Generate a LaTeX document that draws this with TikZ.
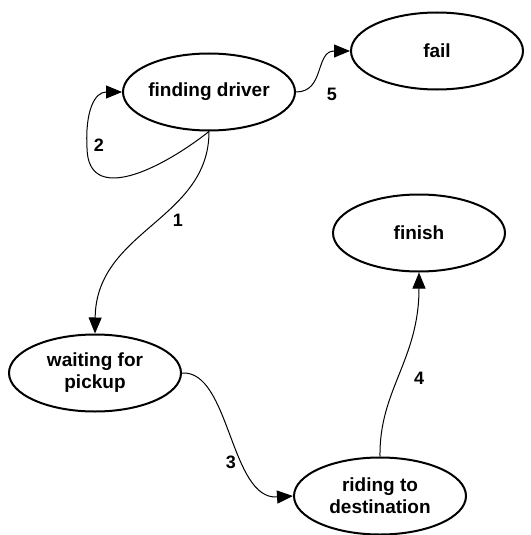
\documentclass[tikz,border=0pt]{standalone}
\usepackage{fontspec}
\setmainfont{Liberation Sans}
\usetikzlibrary{shapes.geometric,arrows.meta}
\tikzset{
  state/.style={ellipse,draw,line width=2pt,minimum width=172pt,minimum height=77pt,inner sep=0pt,align=center,
    font=\bfseries\fontsize{19}{22}\selectfont},
  trans/.style={line width=1pt,-{Triangle[length=16pt,width=13pt]}},
  lbl/.style={font=\bfseries\fontsize{18}{20}\selectfont,inner sep=0pt}
}
\begin{document}
\begin{tikzpicture}[x=1pt,y=-1pt]
\useasboundingbox[fill=white] (0,0) rectangle (530,535);
\node[state] (fd) at (209,92) {finding driver};
\node[state] (fail) at (437,51) {fail};
\node[state] (fin) at (419,233) {finish};
\node[state] (wp) at (95,373) {waiting for\\pickup};
\node[state] (rd) at (380,496) {riding to\\destination};
\draw[trans] (fd.south) .. controls (209,220) and (96,230) .. (wp.north);
\coordinate (lp) at (87,148);
\draw[trans] (fd.south) .. controls (160,170) and (88,205) .. (lp) .. controls (85,110) and (95,92) .. (fd.west);
\draw[trans] (fd.east) .. controls (325,92) and (315,51) .. (fail.west);
\draw[trans] (wp.east) .. controls (230,370) and (230,500) .. (rd.west);
\draw[trans] (rd.north) .. controls (379,390) and (419,360) .. (fin.south);
\node[lbl] (l1) at (178,220) {1};
\node[lbl] (l2) at (99,145) {2};
\node[lbl] (l3) at (231,462) {3};
\node[lbl] (l4) at (419,378) {4};
\node[lbl] (l5) at (332,94) {5};
\end{tikzpicture}
\end{document}
